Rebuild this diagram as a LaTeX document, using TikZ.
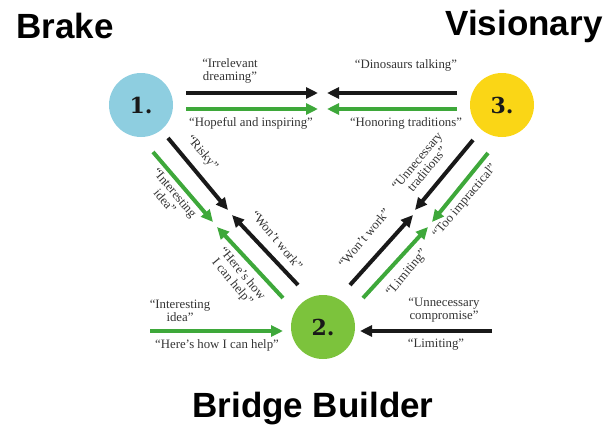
\documentclass[tikz,border=0pt]{standalone}
\usepackage{fontspec}
\setmainfont{Liberation Serif}
\newfontfamily\titlefont{Liberation Sans}
\newfontfamily\numfont{DejaVu Serif}
\usetikzlibrary{arrows.meta}
\definecolor{cblue}{RGB}{142,206,224}
\definecolor{cyellow}{RGB}{250,214,22}
\definecolor{cgreen}{RGB}{124,195,60}
\definecolor{agreen}{RGB}{62,168,58}
\definecolor{ablack}{RGB}{25,25,25}
\tikzset{
  role/.style={circle,inner sep=0pt,minimum size=64pt,font=\numfont\bfseries\fontsize{22}{24}\selectfont,text=ablack},
  title/.style={font=\titlefont\bfseries\fontsize{35}{38}\selectfont,anchor=base},
  lbl/.style={font=\fontsize{12.8}{13}\selectfont,text=black!80,align=center,inner sep=0pt},
  blackarrow/.style={draw=ablack,line width=4pt,-{Triangle[length=12pt,width=11pt]}},
  greenarrow/.style={draw=agreen,line width=4pt,-{Triangle[length=12pt,width=11pt]}}
}
\begin{document}
\begin{tikzpicture}[x=1pt,y=-1pt]
\useasboundingbox (0,0) rectangle (615,434);
% titles
\node[title] (tb) at (65,38) {Brake};
\node[title] (tv) at (524,35) {Visionary};
\node[title] (tbb) at (313,417) {Bridge Builder};
% circles
\node[role,fill=cblue] (c1) at (141,105) {1.};
\node[role,fill=cyellow] (c3) at (502,105) {3.};
\node[role,fill=cgreen] (c2) at (323,327) {2.};
% arrow endpoints
\coordinate (t1s) at (186,93);  \coordinate (t1e) at (318,93);
\coordinate (t2s) at (186,109); \coordinate (t2e) at (318,109);
\coordinate (t3s) at (457,93);  \coordinate (t3e) at (327,93);
\coordinate (t4s) at (457,109); \coordinate (t4e) at (327,109);
\coordinate (l1s) at (168,138); \coordinate (l1e) at (228,210);
\coordinate (l2s) at (153,152); \coordinate (l2e) at (213,222);
\coordinate (l3s) at (298,285); \coordinate (l3e) at (232,215);
\coordinate (l4s) at (283,298); \coordinate (l4e) at (217,227);
\coordinate (r1s) at (473,140); \coordinate (r1e) at (415,210);
\coordinate (r2s) at (488,153); \coordinate (r2e) at (432,222);
\coordinate (r3s) at (350,285); \coordinate (r3e) at (413,215);
\coordinate (r4s) at (363,298); \coordinate (r4e) at (428,227);
\coordinate (b1s) at (150,331); \coordinate (b1e) at (283,331);
\coordinate (b2s) at (492,331); \coordinate (b2e) at (360,331);
% arrows
\draw[blackarrow] (t1s) -- (t1e);
\draw[greenarrow] (t2s) -- (t2e);
\draw[blackarrow] (t3s) -- (t3e);
\draw[greenarrow] (t4s) -- (t4e);
\draw[blackarrow] (l1s) -- (l1e);
\draw[greenarrow] (l2s) -- (l2e);
\draw[blackarrow] (l3s) -- (l3e);
\draw[greenarrow] (l4s) -- (l4e);
\draw[blackarrow] (r1s) -- (r1e);
\draw[greenarrow] (r2s) -- (r2e);
\draw[blackarrow] (r3s) -- (r3e);
\draw[greenarrow] (r4s) -- (r4e);
\draw[greenarrow] (b1s) -- (b1e);
\draw[blackarrow] (b2s) -- (b2e);
% top labels
\node[lbl] (la) at (230,71) {“Irrelevant\\dreaming”};
\node[lbl] (lb) at (406,65) {“Dinosaurs talking”};
\node[lbl] (lc) at (251,123) {“Hopeful and inspiring”};
\node[lbl] (ld) at (406,123) {“Honoring traditions”};
% left diagonal labels
\node[lbl,rotate=-50] (le) at (202,153) {“Risky”};
\node[lbl,rotate=-50] (lf) at (170,197) {“Interesting\\idea”};
\node[lbl,rotate=-50] (lg) at (277,240) {“Won’t work”};
\node[lbl,rotate=-50] (lh) at (237,278) {“Here’s how\\I can help”};
% right diagonal labels
\node[lbl,rotate=50] (li) at (422,165) {“Unnecessary\\traditions”};
\node[lbl,rotate=50] (lj) at (465,201) {“Too impractical”};
\node[lbl,rotate=50] (lk) at (364,238) {“Won’t work”};
\node[lbl,rotate=50] (ll) at (407,273) {“Limiting”};
% bottom labels
\node[lbl] (lm) at (180,311) {“Interesting\\idea”};
\node[lbl] (ln) at (217,345) {“Here’s how I can help”};
\node[lbl] (lo) at (444,310) {“Unnecessary\\compromise”};
\node[lbl] (lp) at (436,345) {“Limiting”};
\end{tikzpicture}
\end{document}
